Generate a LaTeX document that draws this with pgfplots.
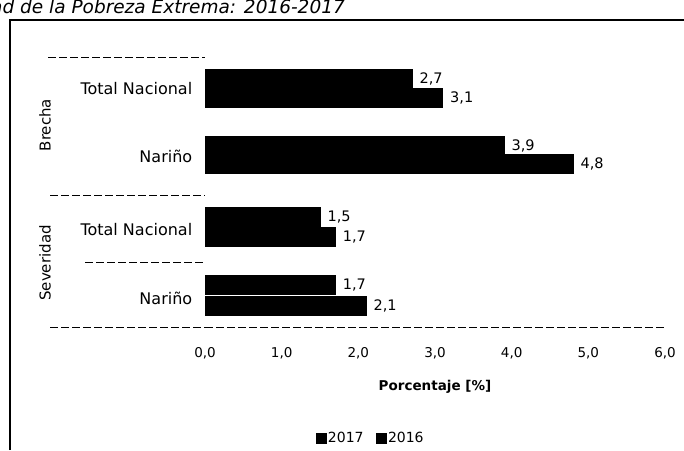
\documentclass[border=0pt]{standalone}
\usepackage{pgfplots}
\pgfplotsset{compat=1.18}
\usepackage{fontspec}
\setmainfont{DejaVu Sans}
\begin{document}
\begin{tikzpicture}[x=1pt,y=1pt]
\useasboundingbox (0,0) rectangle (684,450);
\node[anchor=base east, font=\fontsize{18.5}{22}\selectfont\itshape, inner sep=0] at (345,436) {Brecha y Severidad de la Pobreza Extrema: 2016-2017};
\draw[line width=2pt] (10,0) -- (10,430) -- (684,430);
\begin{axis}[
  at={(205pt,123pt)}, anchor=south west, scale only axis,
  width=460pt, height=270pt,
  xmin=0, xmax=6, ymin=57, ymax=327, y dir=reverse,
  xbar, bar width=19, bar shift=0pt,
  axis x line*=bottom, axis y line*=left,
  y axis line style={draw=none},
  x axis line style={black, line width=0.8pt, dash pattern=on 8pt off 3pt, -},
  xtick={0,1,2,3,4,5,6}, xtick style={draw=none},
  xticklabel={\pgfmathprintnumber[fixed,fixed zerofill,precision=1,use comma]{\tick}},
  /pgf/number format/assume math mode=true,
  xticklabel style={font=\fontsize{13.5}{15}\selectfont, yshift=-17pt},
  ytick={89,156,230,298}, ytick style={draw=none},
  yticklabels={Total Nacional, Nariño, Total Nacional, Nariño},
  yticklabel style={font=\fontsize{16}{18}\selectfont, xshift=-5pt},
  xlabel={\textbf{Porcentaje [\%]}},
  xlabel style={at={(axis description cs:0.5,-0.22)}, anchor=center, font=\fontsize{13.5}{15}\selectfont},
  nodes near coords={\pgfmathprintnumber[fixed,fixed zerofill,precision=1,use comma]{\pgfplotspointmeta}},
  point meta=x,
  nodes near coords style={font=\fontsize{14.5}{16}\selectfont, anchor=west, xshift=4pt},
  legend style={at={(0.36,-0.41)}, anchor=center, legend columns=2, draw=none,
    font=\fontsize{14}{16}\selectfont, /tikz/every even column/.append style={column sep=10pt}},
  legend image code/.code={\fill[black] (0pt,-5pt) rectangle (10pt,5pt);},
  clip=false,
]
\addplot[fill=black, draw=black] coordinates {(2.7,79) (3.9,146) (1.5,217) (1.7,285)};
\addlegendentry{2017}
\addplot[fill=black, draw=black] coordinates {(3.1,98) (4.8,164) (1.7,237) (2.1,306)};
\addlegendentry{2016}
\end{axis}
\begin{scope}[line width=0.8pt, dash pattern=on 8pt off 3pt]
\draw (48,393) -- (205,393);
\draw (50,255) -- (205,255);
\draw (85,188) -- (205,188);
\draw (50,123) -- (205,123);
\end{scope}
\node[rotate=90, font=\fontsize{15}{17}\selectfont] at (45,325) {Brecha};
\node[rotate=90, font=\fontsize{15}{17}\selectfont] at (45,187) {Severidad};
\end{tikzpicture}
\end{document}
